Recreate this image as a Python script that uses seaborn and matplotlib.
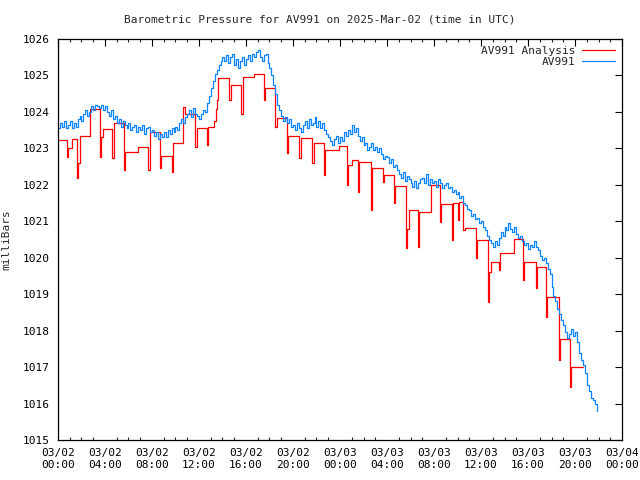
import matplotlib
matplotlib.use('Agg')
import matplotlib.pyplot as plt
import matplotlib.dates as mdates
import seaborn as sns
import numpy as np
import pandas as pd

BASE = pd.Timestamp('2025-03-02 00:00')
RED = '#ff0000'
BLUE = '#0a84ff'

# AV991 station pressure, one reading every 10 minutes from 03/02 00:00
av991 = [
    1023.55, 1023.70, 1023.60, 1023.75, 1023.55, 1023.65,
    1023.75, 1023.55, 1023.70, 1023.60, 1023.80, 1023.90,
    1023.75, 1023.95, 1024.05, 1023.90, 1024.00, 1024.15,
    1024.05, 1024.20, 1024.15, 1024.10, 1024.20, 1024.05,
    1024.15, 1024.00, 1023.90, 1024.05, 1023.80, 1023.90,
    1023.70, 1023.80, 1023.60, 1023.75, 1023.65, 1023.55,
    1023.70, 1023.50, 1023.60, 1023.65, 1023.45, 1023.60,
    1023.50, 1023.65, 1023.40, 1023.55, 1023.60, 1023.45,
    1023.50, 1023.35, 1023.45, 1023.25, 1023.40, 1023.30,
    1023.45, 1023.30, 1023.50, 1023.40, 1023.55, 1023.45,
    1023.60, 1023.50, 1023.70, 1023.80, 1023.70, 1023.85,
    1023.95, 1024.05, 1023.85, 1024.10, 1023.95, 1023.90,
    1023.80, 1023.95, 1024.05, 1024.00, 1024.25, 1024.45,
    1024.65, 1024.85, 1025.05, 1025.15, 1025.30, 1025.40,
    1025.50, 1025.40, 1025.55, 1025.35, 1025.50, 1025.60,
    1025.30, 1025.45, 1025.20, 1025.40, 1025.50, 1025.30,
    1025.45, 1025.55, 1025.40, 1025.60, 1025.50, 1025.65,
    1025.70, 1025.50, 1025.40, 1025.55, 1025.60, 1025.35,
    1025.20, 1025.00, 1024.75, 1024.50, 1024.20, 1024.05,
    1023.90, 1023.75, 1023.85, 1023.70, 1023.80, 1023.60,
    1023.65, 1023.50, 1023.70, 1023.55, 1023.45, 1023.65,
    1023.75, 1023.55, 1023.80, 1023.65, 1023.70, 1023.85,
    1023.60, 1023.75, 1023.55, 1023.70, 1023.50, 1023.40,
    1023.30, 1023.20, 1023.10, 1023.25, 1023.35, 1023.15,
    1023.30, 1023.20, 1023.45, 1023.35, 1023.50, 1023.40,
    1023.65, 1023.45, 1023.55, 1023.35, 1023.20, 1023.30,
    1023.10, 1023.15, 1022.95, 1023.05, 1023.15, 1022.95,
    1023.05, 1022.90, 1023.00, 1022.85, 1022.70, 1022.80,
    1022.75, 1022.60, 1022.70, 1022.50, 1022.55, 1022.40,
    1022.30, 1022.20, 1022.35, 1022.10, 1022.25, 1022.15,
    1022.05, 1021.95, 1022.10, 1021.90, 1022.05, 1022.15,
    1022.20, 1022.05, 1022.30, 1022.00, 1022.15, 1022.05,
    1022.10, 1021.95, 1022.15, 1022.05, 1021.90, 1022.00,
    1022.05, 1021.90, 1021.95, 1021.80, 1021.85, 1021.75,
    1021.80, 1021.65, 1021.70, 1021.50, 1021.45, 1021.35,
    1021.30, 1021.15, 1021.20, 1021.05, 1021.10, 1020.95,
    1021.00, 1020.85, 1020.75, 1020.60, 1020.50, 1020.40,
    1020.30, 1020.45, 1020.35, 1020.55, 1020.70, 1020.60,
    1020.85, 1020.75, 1020.95, 1020.80, 1020.70, 1020.85,
    1020.65, 1020.55, 1020.60, 1020.45, 1020.35, 1020.40,
    1020.25, 1020.35, 1020.30, 1020.45, 1020.30, 1020.20,
    1020.05, 1019.95, 1020.00, 1019.85, 1019.70, 1019.55,
    1019.20, 1018.95, 1018.80, 1018.60, 1018.45, 1018.30,
    1018.15, 1017.95, 1017.80, 1017.90, 1018.05, 1017.85,
    1017.95, 1017.70, 1017.40, 1017.20, 1017.05, 1016.85,
    1016.50, 1016.35, 1016.15, 1016.10, 1016.00, 1015.80,
]
av991_hours = [i / 6 for i in range(len(av991))]

# analysis: hours since 03/02 00:00 and value, held until the next point
analysis_hours = [
    0.0, 0.75, 0.85, 1.2, 1.6, 1.7, 1.85, 2.7, 3.6, 3.7, 3.85, 4.6, 4.75, 5.6, 5.7,
    6.8, 7.7, 7.8, 8.7, 8.8, 9.7, 9.8, 10.65, 10.8, 11.7, 11.85, 12.7, 12.8, 13.3,
    13.45, 13.55, 13.65, 14.55, 14.7, 15.6, 15.75, 16.7, 17.55, 17.65, 18.45, 18.6,
    19.5, 19.6, 20.55, 20.7, 21.6, 21.75, 22.6, 22.75, 23.9, 24.6, 24.7, 25.0, 25.5,
    25.6, 26.6, 26.7, 27.65, 27.75, 28.6, 28.7, 29.6, 29.7, 29.9, 30.6, 30.75, 31.75,
    32.5, 32.6, 33.5, 33.6, 34.0, 34.1, 34.5, 34.6, 35.6, 35.7, 36.6, 36.7, 36.85,
    37.55, 37.65, 38.85, 39.55, 39.65, 40.65, 40.75, 41.55, 41.65, 42.6, 42.7, 43.6,
    43.7, 44.7,
]
analysis = [
    1023.23, 1022.76, 1023.00, 1023.26, 1022.19, 1022.60, 1023.34, 1024.08, 1022.76,
    1023.30, 1023.53, 1022.74, 1023.70, 1022.40, 1022.90, 1023.04, 1022.40, 1023.45,
    1022.46, 1022.80, 1022.35, 1023.15, 1024.13, 1023.94, 1023.04, 1023.56, 1023.10,
    1023.60, 1023.75, 1024.07, 1024.33, 1024.93, 1024.33, 1024.74, 1023.94, 1024.96,
    1025.05, 1024.33, 1024.66, 1023.58, 1023.83, 1022.87, 1023.34, 1022.73, 1023.28,
    1022.60, 1023.15, 1022.27, 1022.95, 1023.06, 1022.00, 1022.54, 1022.68, 1021.80,
    1022.63, 1021.30, 1022.46, 1022.08, 1022.27, 1021.50, 1021.97, 1020.27, 1020.80,
    1021.30, 1020.30, 1021.25, 1022.00, 1020.98, 1021.47, 1020.50, 1021.50, 1021.03,
    1021.52, 1020.76, 1020.81, 1020.00, 1020.50, 1018.78, 1019.60, 1019.88, 1019.66,
    1020.13, 1020.51, 1019.39, 1019.88, 1019.17, 1019.75, 1018.37, 1018.92, 1017.19,
    1017.77, 1016.45, 1017.00, 1017.00,
]

sns.set_theme(style='white')
plt.rcParams['font.family'] = ['DejaVu Sans Mono']
plt.rcParams['font.size'] = 8

fig = plt.figure(figsize=(6.4, 4.8), dpi=100)
ax = fig.add_axes([0.0906, 0.0833, 0.8813, 0.8354])

t_red = BASE + pd.to_timedelta(analysis_hours, unit='h')
t_blue = BASE + pd.to_timedelta(av991_hours, unit='h')

sns.lineplot(x=t_red, y=analysis, ax=ax, color=RED, lw=0.9, drawstyle='steps-post',
             estimator=None, sort=False, label='AV991 Analysis')
sns.lineplot(x=t_blue, y=av991, ax=ax, color=BLUE, lw=0.9, drawstyle='steps-post',
             estimator=None, sort=False, label='AV991')

ax.set_xlim(BASE, BASE + pd.Timedelta(hours=48))
ax.set_ylim(1015, 1026)
ax.set_yticks(np.arange(1015, 1027, 1))
ax.xaxis.set_major_locator(mdates.HourLocator(byhour=range(0, 24, 4)))
ax.xaxis.set_minor_locator(mdates.HourLocator())
ax.xaxis.set_major_formatter(mdates.DateFormatter('%m/%d\n%H:%M'))

ax.tick_params(which='major', direction='in', length=5, width=0.8,
               top=True, right=True, labelsize=8, colors='black', pad=6)
ax.tick_params(which='minor', direction='in', length=2.5, width=0.8,
               top=True, bottom=True)
ax.tick_params(axis='y', which='minor', left=False, right=False)
for s in ax.spines.values():
    s.set_color('black')
    s.set_linewidth(0.9)

ax.set_xlabel('')
ax.set_ylabel('milliBars', fontsize=8, labelpad=8)
fig.text(0.5, 0.96, 'Barometric Pressure for AV991 on 2025-Mar-02 (time in UTC)',
         ha='center', va='center', fontsize=8)

ax.legend(loc='upper right', frameon=False, markerfirst=False, handlelength=3.0,
          fontsize=8, borderaxespad=0.2, labelspacing=0.15, handletextpad=0.6)

fig.savefig('out.png', dpi=100)
